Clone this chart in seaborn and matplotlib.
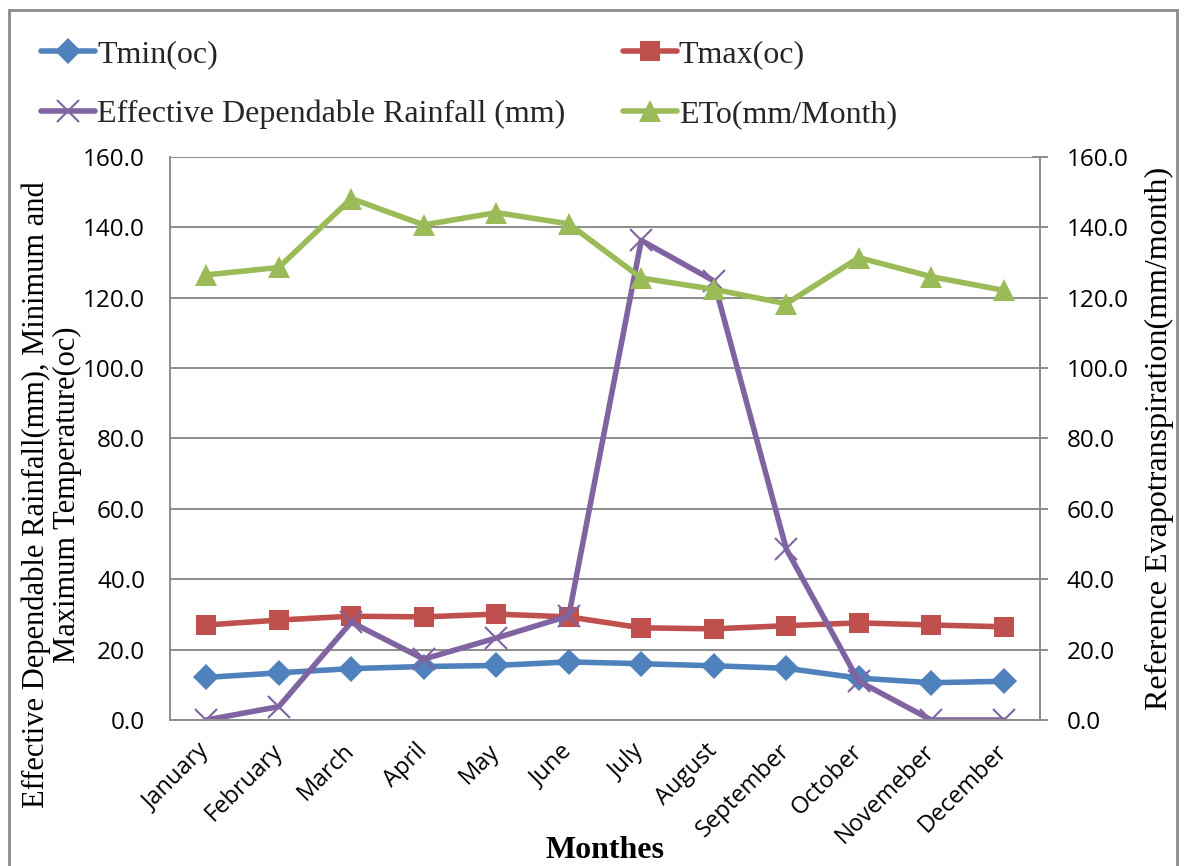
import matplotlib
matplotlib.use("Agg")
import matplotlib.pyplot as plt
from matplotlib.lines import Line2D
from matplotlib.patches import Rectangle
import seaborn as sns
import numpy as np
import pandas as pd

months = ["January", "February", "March", "April", "May", "June", "July",
          "August", "September", "October", "Novemeber", "December"]
tmin = [12.1, 13.4, 14.6, 15.2, 15.5, 16.5, 16.0, 15.4, 14.7, 11.9, 10.6, 11.0]
tmax = [27.0, 28.4, 29.5, 29.3, 30.1, 29.3, 26.2, 25.9, 26.8, 27.6, 27.0, 26.5]
rain = [0.0, 3.8, 27.8, 17.3, 23.3, 29.6, 136.3, 124.8, 48.6, 11.0, 0.0, 0.0]
eto = [126.5, 128.6, 148.2, 140.7, 144.2, 141.0, 125.6, 122.4, 118.3, 131.4, 126.0, 122.1]
yticks = np.arange(0, 161, 20)

sns.set_theme(style="white")
serif = ["Liberation Serif", "DejaVu Serif"]
sans = ["Open Sans", "DejaVu Sans"]

df = pd.DataFrame({"month": months, "tmin": tmin, "tmax": tmax, "rain": rain, "eto": eto})

fig = plt.figure(figsize=(11.84, 8.66), dpi=100)
ax = fig.add_axes([0.1436, 0.1686, 0.7348, 0.6501])
ax2 = ax.twinx()

c_tmin, c_tmax, c_rain, c_eto = "#4F81BD", "#C0504D", "#8064A2", "#9BBB59"
lw = 4.0

styles = {
    "tmin": dict(color=c_tmin, marker="D", markersize=13, markeredgewidth=0),
    "tmax": dict(color=c_tmax, marker="s", markersize=15, markeredgewidth=0),
    "rain": dict(color=c_rain, marker="x", markersize=16, markeredgewidth=1.5,
                 markeredgecolor=c_rain),
    "eto": dict(color=c_eto, marker="^", markersize=16, markeredgewidth=0),
}

for col, a in [("tmin", ax), ("tmax", ax), ("rain", ax), ("eto", ax2)]:
    sns.lineplot(data=df, x="month", y=col, ax=a, lw=lw, sort=False, **styles[col])

grid_c = "#8C8C8C"
for a in (ax, ax2):
    a.set_ylim(0, 160)
    a.set_xlim(-0.5, 11.5)
    a.set_yticks(yticks)
    a.set_yticklabels([f"{v:.1f}" for v in yticks], fontsize=17.5, family=sans,
                      color="black")
    for s in a.spines.values():
        s.set_visible(False)

ax.yaxis.grid(True, color=grid_c, lw=1.4)
ax.set_axisbelow(True)
for a, side in [(ax, "left"), (ax, "bottom"), (ax2, "right")]:
    a.spines[side].set_visible(True)
    a.spines[side].set_color(grid_c)
    a.spines[side].set_linewidth(1.4)

ax.tick_params(axis="y", left=False, pad=12)
ax.tick_params(axis="x", bottom=False, pad=14)
ax2.tick_params(axis="y", right=True, direction="inout", length=12, width=1.4,
                color=grid_c, pad=13)

ax.set_xticks(range(len(months)))
ax.set_xticklabels(months, rotation=45, ha="right", va="center", rotation_mode="anchor",
                   fontsize=17, family=sans, color="black")

ax.set_xlabel("Monthes", fontsize=23, fontweight="bold", family=serif, color="black")
ax.xaxis.label.set_verticalalignment("center")
ax.xaxis.set_label_coords(0.5, -0.232)
ax.set_ylabel("Effective Dependable Rainfall(mm), Minimum and\nMaximum Temperature(oc)",
              fontsize=22, family=serif, linespacing=1.12, color="black")
ax.yaxis.label.set_rotation_mode("default")
ax.yaxis.label.set_verticalalignment("center")
ax.yaxis.set_label_coords(-0.136, 0.40)
ax2.set_ylabel("Reference Evapotranspiration(mm/month)", fontsize=23,
               family=serif, labelpad=12, color="black")

def handle(key):
    return Line2D([0], [0], lw=lw, **styles[key])

# row-wise order for a two-column legend
handles = [handle("tmin"), handle("rain"), handle("tmax"), handle("eto")]
labels = ["Tmin(oc)", "Effective Dependable Rainfall (mm)", "Tmax(oc)", "ETo(mm/Month)"]
fig.legend(handles, labels, loc="upper left", bbox_to_anchor=(0.024, 0.969), ncol=2,
           frameon=False, prop={"family": serif, "size": 23}, handlelength=1.7,
           handletextpad=0.05, columnspacing=1.8, labelspacing=0.97, borderaxespad=0)

fig.patches.append(Rectangle((0.008, -0.02), 0.986, 1.008, transform=fig.transFigure,
                             fill=False, edgecolor="#8C8C8C", lw=2))

fig.savefig("out.png", dpi=100)
